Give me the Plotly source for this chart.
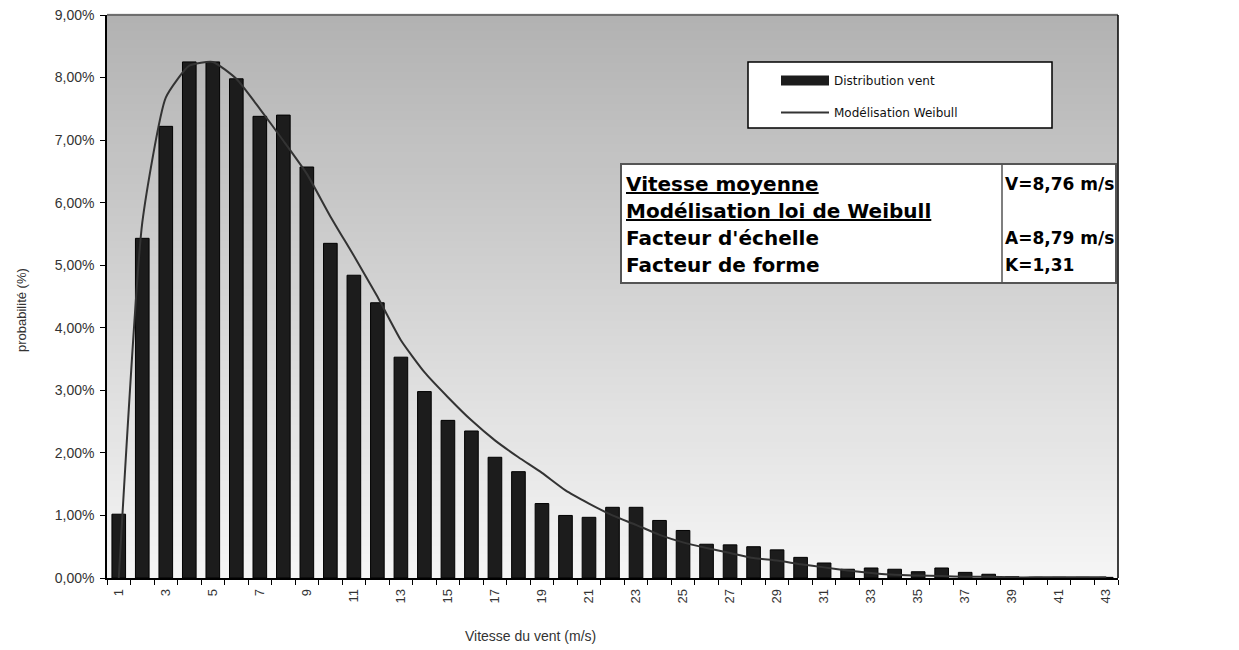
import plotly.graph_objects as go

# ---------------- data ----------------
speeds = list(range(1, 44))
distribution_pct = [1.02, 5.43, 7.22, 8.25, 8.25, 7.98, 7.38, 7.40, 6.57, 5.35,
                    4.84, 4.40, 3.53, 2.98, 2.52, 2.35, 1.93, 1.70, 1.19, 1.00,
                    0.97, 1.13, 1.13, 0.92, 0.76, 0.54, 0.53, 0.50, 0.45, 0.33,
                    0.24, 0.14, 0.16, 0.14, 0.10, 0.16, 0.09, 0.06, 0.02, 0.01,
                    0.01, 0.01, 0.01]
weibull_pct = [0.00, 5.68, 7.68, 8.19, 8.25, 7.98, 7.50, 6.99, 6.46, 5.78,
               5.15, 4.50, 3.80, 3.29, 2.89, 2.52, 2.20, 1.93, 1.68, 1.40,
               1.19, 1.00, 0.85, 0.69, 0.57, 0.48, 0.40, 0.32, 0.28, 0.22,
               0.17, 0.12, 0.08, 0.05, 0.04, 0.03, 0.02, 0.02, 0.01, 0.01,
               0.01, 0.01, 0.01]
x_tick_vals = list(range(1, 44, 2))
x_tick_text = [str(v) for v in x_tick_vals]
y_tick_vals = list(range(0, 10))
y_tick_text = ["%d,00%%" % v for v in y_tick_vals]
table_left = ["<u>Vitesse moyenne</u>", "<u>Modélisation loi de Weibull</u>",
              "Facteur d'échelle", "Facteur de forme"]
table_right = ["V=8,76 m/s", "", "A=8,79 m/s", "K=1,31"]

# ---------------- layout geometry (pixels) ----------------
W, H = 1239, 650
L, R, T, B = 107, 1118, 15, 578


def px(x):
    return (x - L) / (R - L)


def py(y):
    return (B - y) / (B - T)


fig = go.Figure()
fig.add_trace(go.Bar(
    x=speeds, y=distribution_pct, name="Distribution vent",
    width=0.58, marker=dict(color="#1c1c1c", line=dict(color="#000000", width=1)),
    showlegend=False))
# legend-only entry giving the wide dark swatch of the original legend
fig.add_trace(go.Scatter(
    x=[None], y=[None], name="Distribution vent", mode="lines",
    line=dict(color="#1c1c1c", width=10), legendgroup="a", hoverinfo="skip"))
fig.add_trace(go.Scatter(
    x=speeds, y=weibull_pct, name="Modélisation Weibull", mode="lines",
    line=dict(color="#333333", width=2, shape="spline", smoothing=0.5),
    legendgroup="b"))

shapes = []
# gradient background bands
n = 70
top_c, bot_c = 178, 245
for i in range(n):
    f = i / (n - 1)
    c = int(round(bot_c + (top_c - bot_c) * f))
    shapes.append(dict(type="rect", xref="paper", yref="paper",
                       x0=0, x1=1, y0=i / n, y1=(i + 1) / n + 0.002,
                       fillcolor="rgb(%d,%d,%d)" % (c, c, c), line=dict(width=0),
                       layer="below"))
# frame: top (grey) and right (black)
shapes.append(dict(type="line", xref="paper", yref="paper", x0=0, x1=1, y0=1, y1=1,
                   line=dict(color="#6e6e6e", width=2)))
shapes.append(dict(type="line", xref="paper", yref="paper", x0=1, x1=1, y0=0, y1=1,
                   line=dict(color="#000000", width=1.5)))
# legend box
shapes.append(dict(type="rect", xref="paper", yref="paper",
                   x0=px(748), x1=px(1052), y0=py(128), y1=py(62),
                   fillcolor="white", line=dict(color="black", width=1.5), layer="above"))
# table box
shapes.append(dict(type="rect", xref="paper", yref="paper",
                   x0=px(621), x1=px(1116), y0=py(283), y1=py(164),
                   fillcolor="white", line=dict(color="#555555", width=2), layer="above"))
shapes.append(dict(type="line", xref="paper", yref="paper",
                   x0=px(1002), x1=px(1002), y0=py(283), y1=py(164),
                   line=dict(color="#555555", width=1.5), layer="above"))

annotations = []
row_y = [184, 211, 238, 265]
for txt, yy in zip(table_left, row_y):
    annotations.append(dict(text="<b>%s</b>" % txt, xref="paper", yref="paper",
                            x=px(624), y=py(yy), xanchor="left", yanchor="middle",
                            showarrow=False,
                            font=dict(family="DejaVu Sans", size=20, color="black")))
for txt, yy in zip(table_right, row_y):
    if txt:
        annotations.append(dict(text="<b>%s</b>" % txt, xref="paper", yref="paper",
                                x=px(1003), y=py(yy), xanchor="left", yanchor="middle",
                                showarrow=False,
                                font=dict(family="DejaVu Sans", size=17, color="black")))
annotations.append(dict(text="Vitesse du vent (m/s)", xref="paper", yref="paper",
                        x=px(530), y=py(636), xanchor="center", yanchor="middle",
                        showarrow=False,
                        font=dict(family="Liberation Sans", size=14, color="#333333")))
annotations.append(dict(text="probabilité (%)", xref="paper", yref="paper",
                        x=px(21), y=py(310), xanchor="center", yanchor="middle",
                        textangle=-90, showarrow=False,
                        font=dict(family="Liberation Sans", size=13, color="#333333")))

fig.update_layout(
    width=W, height=H,
    margin=dict(l=L, r=W - R, t=T, b=H - B, autoexpand=False),
    paper_bgcolor="white", plot_bgcolor="rgb(245,245,245)",
    shapes=shapes, annotations=annotations,
    showlegend=True,
    legend=dict(x=px(776), y=py(66), xanchor="left", yanchor="top",
                bgcolor="rgba(0,0,0,0)", borderwidth=0,
                font=dict(family="DejaVu Sans", size=12, color="#111111"),
                itemwidth=48, tracegroupgap=13, traceorder="grouped"),
    xaxis=dict(range=[0.5, 43.5], tickmode="array", tickvals=x_tick_vals,
               ticktext=x_tick_text, tickangle=-90, ticks="",
               showline=True, linecolor="black", linewidth=1.5,
               showgrid=False, zeroline=False, ticklabelstandoff=4,
               tickfont=dict(family="Liberation Sans", size=13, color="#333333"),
               minor=dict(ticks="outside", tick0=0.5, dtick=1, ticklen=5,
                          tickcolor="black", tickwidth=1, showgrid=False)),
    yaxis=dict(range=[0, 9], tickmode="array", tickvals=y_tick_vals,
               ticktext=y_tick_text, ticks="outside", ticklen=5, tickcolor="black",
               showline=True, linecolor="black", linewidth=1.5,
               showgrid=False, zeroline=False, ticklabelstandoff=3,
               tickfont=dict(family="Liberation Sans", size=14, color="#333333")),
)

fig.write_html("out.html", config={"displayModeBar": False},
               post_script="document.body.style.margin='0';document.body.style.overflow='hidden';")
